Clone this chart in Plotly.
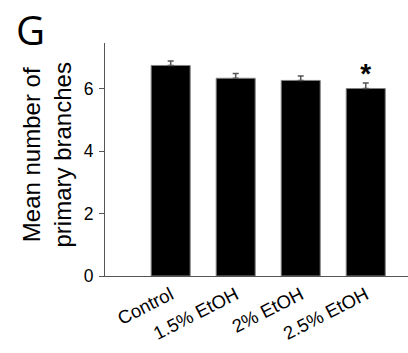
import plotly.graph_objects as go

categories = ["Control", "1.5% EtOH", "2% EtOH", "2.5% EtOH"]
means = [6.75, 6.34, 6.27, 6.01]
errors = [0.14, 0.15, 0.14, 0.18]
signif = ["", "", "", "<b>*</b>"]
star_y = [6.42, 6.42, 6.42, 6.42]
y_ticks = [0, 2, 4, 6]

fig = go.Figure()
fig.add_trace(go.Bar(
    x=list(range(len(categories))), y=means,
    width=0.6,
    marker=dict(color="black", line=dict(color="#808080", width=1)),
    error_y=dict(type="data", array=errors, arrayminus=[0]*len(errors),
                 color="#555555", thickness=1.5, width=3),
))
fig.add_trace(go.Scatter(
    x=list(range(len(categories))), y=star_y, mode="text", text=signif,
    textfont=dict(family="Liberation Sans, Arial", size=28, color="black"),
    textposition="middle center",
))

fig.update_layout(
    width=408, height=353,
    margin=dict(l=105, r=0, t=43, b=77),
    paper_bgcolor="white", plot_bgcolor="white",
    showlegend=False,
    font=dict(family="Liberation Sans, Arial", color="black"),
)
fig.update_xaxes(
    range=[-1.01, 3.65],
    tickmode="array", tickvals=list(range(len(categories))), ticktext=categories,
    tickangle=-27, tickfont=dict(size=18.5),
    showline=True, linecolor="#555555", linewidth=1,
    ticks="", showgrid=False, zeroline=False,
)
fig.update_yaxes(
    range=[0, 7.47],
    tickmode="array", tickvals=y_ticks,
    tickfont=dict(size=17.5),
    showline=True, linecolor="#555555", linewidth=1,
    ticks="outside", ticklen=5, tickcolor="#555555",
    ticklabelstandoff=2,
    showgrid=False, zeroline=False,
)
fig.add_annotation(
    text="Mean number of<br>primary branches", textangle=-90,
    xref="paper", yref="paper", x=0, y=0.5, xanchor="center", yanchor="middle",
    xshift=-59, yshift=4, showarrow=False,
    font=dict(size=24, family="Liberation Sans, Arial", color="black"),
)
fig.add_annotation(
    text="G", xref="paper", yref="paper", x=0, y=1,
    xanchor="center", yanchor="middle", xshift=-75, yshift=14,
    showarrow=False, font=dict(size=40, family="Open Sans", color="black"),
)
fig.write_html("out.html")
